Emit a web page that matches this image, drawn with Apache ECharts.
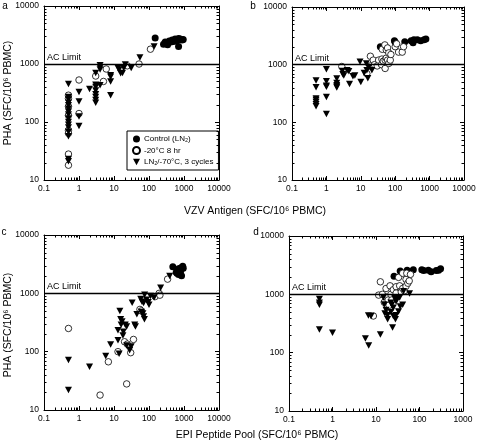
<!DOCTYPE html>
<html><head><meta charset="utf-8">
<script src="https://cdn.jsdelivr.net/npm/echarts@6/dist/echarts.min.js"></script>
<style>html,body{margin:0;padding:0;background:#fff}#c{width:480px;height:444px}</style>
</head><body><div id="c"></div>
<script>
// ---- data (x = antigen SFC/10^6 PBMC, y = PHA SFC/10^6 PBMC) ----
const seriesNames = ['Control (LN\u2082)', '-20\u00B0C 8 hr', 'LN\u2082/-70\u00B0C, 3 cycles'];
const panelLabels = ['a', 'b', 'c', 'd'];
const xTitleTop = 'VZV Antigen (SFC/10\u2076 PBMC)';
const xTitleBottom = 'EPI Peptide Pool (SFC/10\u2076 PBMC)';
const yTitle = 'PHA (SFC/10\u2076 PBMC)';
const acLimit = 1000;
const xMaxByPanel = [10000, 10000, 10000, 1000];

const aControl = [[150,2800],[260,2200],[290,2400],[320,2300],[340,2150],[380,2500],[420,2400],[460,2600],[500,2450],[560,2700],[600,2500],[650,2600],[700,2750],[700,2000],[780,2700],[880,2600],[950,2650]];
const aMinus20 = [[0.5,290],[0.5,255],[0.5,185],[0.5,130],[0.5,72],[0.5,64],[0.5,28],[0.5,18],[1,530],[1,140],[3,620],[5,500],[6,820],[24,930],[52,1000],[110,1800]];
const aLN2 = [[0.5,450],[0.5,270],[0.5,245],[0.5,215],[0.5,195],[0.5,170],[0.5,150],[0.5,135],[0.5,115],[0.5,100],[0.5,90],[0.5,80],[0.5,68],[0.5,57],[0.5,23],[0.5,21],[1,330],[1,225],[1,125],[1,85],[2,370],[3,700],[3,440],[3,400],[3,350],[3,300],[3,270],[3,240],[3,215],[4,430],[4,950],[4,870],[4,800],[8,640],[8,600],[8,500],[8,290],[13,850],[14,800],[15.5,690],[17.5,700],[19,850],[21,980],[31,850],[55,1300],[140,2000]];

const bControl = [[37,2050],[95,2600],[100,2450],[190,2500],[290,2600],[330,2400],[350,2700],[440,2700],[550,2600],[690,2700],[780,2800]];
const bMinus20 = [[2.8,930],[15,700],[19,950],[19,1400],[23,1200],[25,1000],[30,950],[33,1200],[40,1000],[41,1250],[45,1150],[51,860],[51,1200],[55,1300],[60,1200],[65,1050],[72,1200],[42,1850],[50,2200],[55,1800],[60,1950],[65,1600],[75,1500],[100,2050],[110,2300],[125,1650],[160,1650],[175,2050]];
const bLN2 = [[0.5,530],[0.5,405],[0.5,260],[0.5,245],[0.5,225],[0.5,205],[0.5,190],[1,830],[1,515],[1,430],[1,415],[1,275],[1,140],[2,575],[2,480],[2,440],[2,420],[2,400],[2.9,780],[3,680],[3.2,650],[4,800],[4.5,770],[4.7,460],[5.9,630],[6.7,650],[9.5,1120],[10,500],[12.5,720],[14.5,1050],[15,800],[16,580],[21,800],[17,900]];

const cControl = [[480,2850],[600,2300],[650,2500],[700,2650],[720,2200],[780,2700],[800,2400],[850,2000],[880,2800],[920,2900],[950,2700],[700,2100],[630,2200]];
const cMinus20 = [[0.5,250],[4,18],[6.9,67],[13,100],[20,148],[23,28],[24,135],[30,96],[36,162],[55,530],[60,500],[150,880],[195,1000],[205,930],[340,1750]];
const cLN2 = [[0.5,72],[0.5,22],[2,55],[5.8,84],[8,133],[13,157],[13,234],[14,92],[14.7,500],[15.5,360],[16,290],[17,330],[18,190],[18.5,220],[21,290],[23,270],[23,127],[28,106],[31,123],[33,690],[39,290],[41,270],[45,440],[58,800],[61,480],[63,720],[67,450],[70,680],[70,400],[74,360],[75,950],[85,780],[95,700],[100,640],[110,900],[140,850],[215,1250],[390,1990]];

const dControl = [[26,2050],[36,2500],[52,2600],[72,2650],[113,2650],[125,2550],[160,2600],[185,2450],[243,2550],[275,2600],[305,2750]];
const dMinus20 = [[8.7,425],[11.5,970],[12.6,1640],[14,1000],[15.5,730],[17,1260],[17,900],[19,800],[20,650],[21,1400],[22,1000],[23,800],[25,1200],[29,1350],[29,1050],[33,1950],[35,1400],[38,1100],[41,1260],[41,2300],[45,1150],[49,1380],[49,1800],[51,2300],[54,1550],[58,1700],[62,2200]];
const dLN2 = [[0.5,830],[0.5,720],[0.5,660],[0.5,250],[1,220],[5.7,175],[6.8,133],[6.7,435],[7.7,425],[12.6,205],[14.8,880],[15.5,670],[16,470],[17,540],[18.5,440],[18.5,375],[22,500],[22,720],[23,660],[24,270],[25,590],[25,425],[27,860],[28,375],[29,440],[29,750],[31,860],[33,510],[35,880],[36,620],[41,660],[43,1130],[59,1030]];

const panels = [[aControl,aMinus20,aLN2],[bControl,bMinus20,bLN2],[cControl,cMinus20,cLN2],[dControl,dMinus20,dLN2]];

// ---- layout ----
const FONT = 'Liberation Sans, Arial, Helvetica, sans-serif';
const grids = [
  {left:44, top:6, width:175, height:174},
  {left:292, top:7, width:172, height:173},
  {left:44, top:235, width:175, height:175},
  {left:289, top:236, width:174, height:175}
];
const fmt = v => String(+Number(v).toPrecision(3));
const xAxes = [], yAxes = [], series = [];
const TRI = 'path://M0,0L10,0L5,9Z';

grids.forEach((g, i) => {
  const common = {type:'log', logBase:10, gridIndex:i, splitLine:{show:false},
    axisLine:{show:true, onZero:false, lineStyle:{color:'#000', width:1}},
    axisTick:{show:true, inside:true, length:4, lineStyle:{color:'#000', width:1}}};
  const xmax = xMaxByPanel[i];
  xAxes.push(Object.assign({}, common, {min:0.1, max:xmax, position:'bottom',
    axisLabel:{color:'#000', fontSize:8.5, fontFamily:FONT, margin:4, formatter:fmt}}));
  xAxes.push(Object.assign({}, common, {min:0.1, max:xmax, position:'top', axisLabel:{show:false}}));
  yAxes.push(Object.assign({}, common, {min:10, max:10000, position:'left',
    axisLabel:{color:'#000', fontSize:8.5, fontFamily:FONT, margin:5, formatter:fmt}}));
  yAxes.push(Object.assign({}, common, {min:10, max:10000, position:'right', axisLabel:{show:false}}));
  const xi = i*2, yi = i*2;
  const [ctl, m20, ln2] = panels[i];
  series.push({name:seriesNames[0], type:'scatter', xAxisIndex:xi, yAxisIndex:yi, data:ctl,
    symbol:'circle', symbolSize:7, itemStyle:{color:'#000', opacity:1},
    markLine:{silent:true, symbol:'none', data:[{yAxis:acLimit}],
      lineStyle:{color:'#000', width:1.3, type:'solid', opacity:1},
      label:{show:true, position:'insideStartTop', formatter:'AC Limit', color:'#000', fontSize:9, fontFamily:FONT, distance:[3,2]}}});
  series.push({name:seriesNames[1], type:'scatter', xAxisIndex:xi, yAxisIndex:yi, data:m20,
    symbol:'circle', symbolSize:6.5, itemStyle:{color:'#fff', borderColor:'#000', borderWidth:0.8, opacity:1}});
  series.push({name:seriesNames[2], type:'scatter', xAxisIndex:xi, yAxisIndex:yi, data:ln2,
    symbol:TRI, symbolSize:[7,6.5], itemStyle:{color:'#000', opacity:1}});
  // minor log ticks on all four sides
  series.push({type:'custom', xAxisIndex:xi, yAxisIndex:yi, silent:true, clip:false, z:1,
    data:[[1,100]],
    renderItem:(params, api) => {
      const children = [];
      const p0 = api.coord([0.1, 10]), p1 = api.coord([xmax, 10000]);
      const ln = (x1,y1,x2,y2) => children.push({type:'line', shape:{x1,y1,x2,y2}, style:{stroke:'#000', lineWidth:1}});
      for (let e = -1; Math.pow(10,e) < xmax; e++) {
        for (let m = 2; m <= 9; m++) {
          const px = Math.round(api.coord([m*Math.pow(10,e), 10])[0]) + 0.5;
          ln(px, p0[1], px, p0[1]-2.5); ln(px, p1[1], px, p1[1]+2.5);
        }
      }
      for (let e = 1; e < 4; e++) {
        for (let m = 2; m <= 9; m++) {
          const py = Math.round(api.coord([0.1, m*Math.pow(10,e)])[1]) + 0.5;
          ln(p0[0], py, p0[0]+2.5, py); ln(p1[0], py, p1[0]-2.5, py);
        }
      }
      return {type:'group', children};
    }});
});

const txt = (x, y, text, size, extra) => Object.assign({type:'text', x, y,
  style:{text, fill:'#000', font: size + 'px ' + FONT, textAlign:'center', textVerticalAlign:'middle'}}, extra || {});

const graphic = [
  txt(5, 6, panelLabels[0], 10),
  txt(253, 6, panelLabels[1], 10),
  txt(4, 232, panelLabels[2], 10),
  txt(256, 232, panelLabels[3], 10),
  txt(255, 211, xTitleTop, 10.5),
  txt(257, 435, xTitleBottom, 10.5),
  txt(8, 93, yTitle, 10.5, {rotation: Math.PI/2}),
  txt(8, 325, yTitle, 10.5, {rotation: Math.PI/2})
];

const chart = echarts.init(document.getElementById('c'), null, {renderer:'canvas'});
chart.setOption({
  animation:false,
  backgroundColor:'#fff',
  grid: grids,
  xAxis: xAxes,
  yAxis: yAxes,
  series,
  graphic,
  legend:{show:true, data:seriesNames, orient:'vertical', left:127, top:131,
    padding:[4,5,4,5], itemGap:3, itemWidth:7, itemHeight:7,
    borderColor:'#000', borderWidth:1, borderRadius:0,
    textStyle:{fontSize:8, fontFamily:FONT, color:'#000', padding:[0,0,0,-1]},
    selectedMode:false}
});
</script></body></html>
